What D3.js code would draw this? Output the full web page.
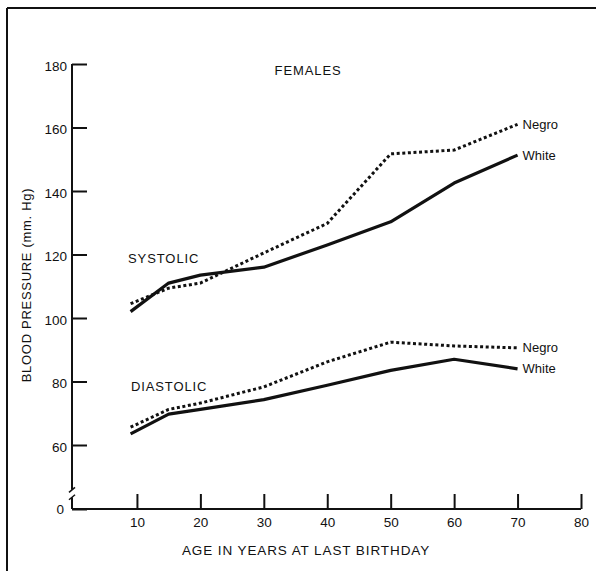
<!DOCTYPE html>
<html>
<head>
<meta charset="utf-8">
<script src="https://cdn.jsdelivr.net/npm/d3@7"></script>
<style>
  body { margin: 0; background: #fff; }
  text { font-family: "Liberation Sans", Arial, Helvetica, sans-serif; fill: #111; }
</style>
</head>
<body>
<svg id="board" width="596" height="571"></svg>
<script>
// ages
const ages = [9, 15, 20, 30, 40, 50, 60, 70];

// blood pressure values (mm Hg)
const systolicWhite = [102, 111, 113.5, 116, 123, 130.3, 142.5, 151.3];
const systolicNegro = [104.5, 109.4, 111, 120.5, 129.8, 151.7, 152.9, 161];
const diastolicWhite = [63.5, 69.7, 71.2, 74.3, 78.8, 83.5, 87, 84];
const diastolicNegro = [65.6, 71.2, 73.2, 78.3, 86.2, 92.4, 91.2, 90.6];

const xTicks = [10, 20, 30, 40, 50, 60, 70, 80];
const yTicks = [0, 60, 80, 100, 120, 140, 160, 180];

const series = [
    { name: "Negro", values: systolicNegro, dotted: true },
    { name: "White", values: systolicWhite, dotted: false },
    { name: "Negro", values: diastolicNegro, dotted: true },
    { name: "White", values: diastolicWhite, dotted: false }
];

// free text placed in data units: [age, value, text]
const notes = [
    [31.7, 176.5, "FEMALES"],
    [8.6, 117.3, "SYSTOLIC"],
    [9.05, 77, "DIASTOLIC"]
];

const board = d3.select("#board");

// y axis is broken: 0 sits one step below 60
const x = d3.scaleLinear().domain([0, 80]).range([73.5, 581]);
const y = d3.scaleLinear().domain([0, 60, 180]).range([509, 445, 64]);

// frame (only top and left edges show in the crop)
board.append("line")
    .attr("x1", 7).attr("y1", 8).attr("x2", 596).attr("y2", 8)
    .attr("stroke", "#111").attr("stroke-width", 2);
board.append("line")
    .attr("x1", 7).attr("y1", 8).attr("x2", 7).attr("y2", 571)
    .attr("stroke", "#111").attr("stroke-width", 2);

const xAxis = board.append("g")
    .attr("transform", `translate(0,${y(0)})`)
    .call(d3.axisBottom(x).tickValues(xTicks).tickSizeInner(-15).tickSizeOuter(0).tickPadding(8));
xAxis.select(".domain").attr("d", `M${x(0) - 1.5},0H${x(80)}`);

const yAxis = board.append("g")
    .attr("transform", `translate(${x(0) - 1.5},0)`)
    .call(d3.axisLeft(y).tickValues(yTicks).tickSizeInner(-15).tickSizeOuter(0).tickPadding(5));
yAxis.select(".domain").remove();

board.selectAll(".tick line").attr("stroke", "#111").attr("stroke-width", 2);
xAxis.select(".domain").attr("stroke", "#111").attr("stroke-width", 2);
board.selectAll(".tick text")
    .attr("font-size", 13.5)
    .style("font-family", "'Liberation Sans', Arial, sans-serif")
    .attr("fill", "#111");
yAxis.selectAll(".tick text").attr("dy", "0.45em");
yAxis.selectAll(".tick").filter(d => d === 0).select("text").attr("x", -8).attr("dy", "0.3em");

// y axis line with the break marks
const ax = x(0) - 1.5;
board.append("line")
    .attr("x1", ax).attr("x2", ax).attr("y1", y(180)).attr("y2", y(18))
    .attr("stroke", "#111").attr("stroke-width", 2);
board.append("line")
    .attr("x1", ax).attr("x2", ax).attr("y1", y(11)).attr("y2", y(0))
    .attr("stroke", "#111").attr("stroke-width", 2);
[18, 11].forEach(v => {
    board.append("line")
        .attr("x1", ax - 3).attr("y1", y(v) + 2.5)
        .attr("x2", ax + 3).attr("y2", y(v) - 2.5)
        .attr("stroke", "#111").attr("stroke-width", 1.5);
});

const line = d3.line()
    .x((d, i) => x(ages[i]))
    .y(d => y(d));

board.selectAll("path.series")
    .data(series)
    .join("path")
    .attr("class", "series")
    .attr("d", d => line(d.values))
    .attr("fill", "none")
    .attr("stroke", "#111")
    .attr("stroke-width", d => d.dotted ? 3 : 3.2)
    .attr("stroke-linejoin", "round")
    .attr("stroke-dasharray", d => d.dotted ? "3,2.6" : null);

board.selectAll("text.endLabel")
    .data(series)
    .join("text")
    .attr("class", "endLabel")
    .attr("x", x(70) + 5)
    .attr("y", d => y(d.values[d.values.length - 1]) + 4.5)
    .attr("font-size", 13)
    .text(d => d.name);

board.selectAll("text.note")
    .data(notes)
    .join("text")
    .attr("class", "note")
    .attr("x", d => x(d[0]))
    .attr("y", d => y(d[1]))
    .attr("font-size", 13)
    .attr("letter-spacing", 0.9)
    .text(d => d[2]);

// axis titles
board.append("text")
    .attr("x", 306)
    .attr("y", 555)
    .attr("text-anchor", "middle")
    .attr("font-size", 13.5)
    .attr("letter-spacing", 0.9)
    .text("AGE IN YEARS AT LAST BIRTHDAY");

board.append("text")
    .attr("transform", "translate(31,285) rotate(-90)")
    .attr("text-anchor", "middle")
    .attr("font-size", 13)
    .attr("letter-spacing", 0.7)
    .text("BLOOD PRESSURE (mm. Hg)");
</script>
</body>
</html>
